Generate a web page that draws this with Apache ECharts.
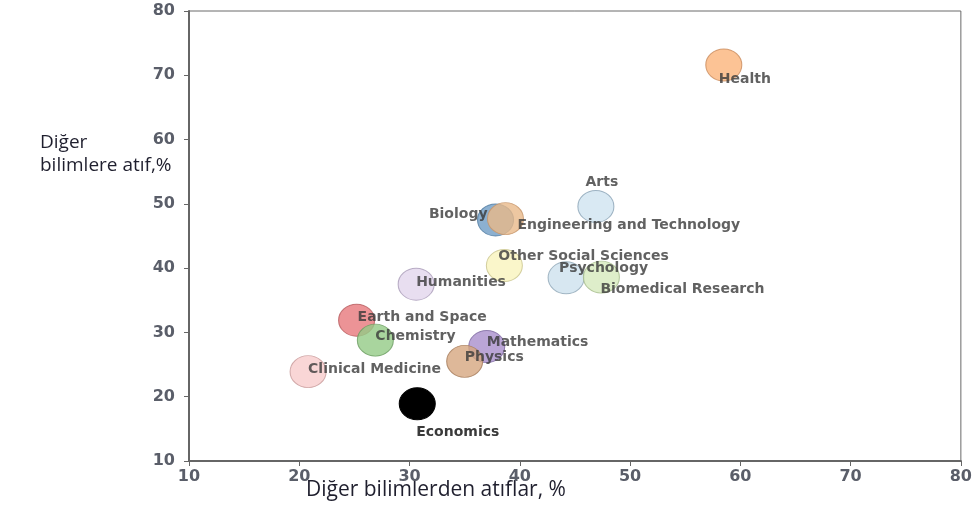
<!DOCTYPE html>
<html>
<head>
<meta charset="utf-8">
<script src="https://cdn.jsdelivr.net/npm/echarts@6/dist/echarts.min.js"></script>
<style>
html, body { margin: 0; padding: 0; background: #fff; }
#chart { width: 975px; height: 512px; }
</style>
</head>
<body>
<div id="chart"></div>
<script>
// alanlar ve değerler
var fields = ['Health', 'Arts', 'Biology', 'Engineering and Technology', 'Other Social Sciences',
	'Humanities', 'Psychology', 'Biomedical Research', 'Earth and Space', 'Chemistry',
	'Mathematics', 'Physics', 'Clinical Medicine', 'Economics'];
var citesFrom = [58.5, 46.9, 37.8, 38.7, 38.6, 30.6, 44.2, 47.4, 25.2, 26.9, 37.0, 35.0, 20.8, 30.7];
var citesTo = [71.6, 49.6, 47.5, 47.7, 40.4, 37.5, 38.5, 38.6, 31.9, 28.8, 27.8, 25.5, 23.9, 18.9];
var xTicks = [10, 20, 30, 40, 50, 60, 70, 80];
var yTicks = [10, 20, 30, 40, 50, 60, 70, 80];

// renkler (dolgu, kenar)
var fills = ['#fbb47a', '#cfe3f0', '#6f9cc4', '#e9b98a', '#f9f4bd', '#e2d6ec', '#cde1ee', '#d6eabd',
	'#e7787c', '#93cb86', '#a98fcc', '#d6a67f', '#f8cccc', '#000000'];
var borders = ['#c9895a', '#8aa3b5', '#4f7aa0', '#c6956a', '#c9c48f', '#a99bb8', '#8ea6b7', '#a6bb8c',
	'#b75a5d', '#6c9c61', '#7d68a0', '#a67d5c', '#c79a9a', '#000000'];

// etiket konumları [dx, dy, hizalama]
var labelPos = {
	'Health': [-5, 14, 'left'],
	'Arts': [6, -24, 'center'],
	'Biology': [-8, -6, 'right'],
	'Engineering and Technology': [12, 7, 'left'],
	'Other Social Sciences': [-6, -9, 'left'],
	'Humanities': [0, -2, 'left'],
	'Psychology': [-7, -9, 'left'],
	'Biomedical Research': [-1, 12, 'left'],
	'Earth and Space': [1, -3, 'left'],
	'Chemistry': [0, -4, 'left'],
	'Mathematics': [0, -4, 'left'],
	'Physics': [0, -4, 'left'],
	'Clinical Medicine': [0, -2, 'left'],
	'Economics': [-1, 29, 'left']
};

var dom = document.getElementById('chart');
var myChart = echarts.init(dom);

var points = fields.map(function (name, i) {
	var lp = labelPos[name];
	return {
		name: name,
		value: [citesFrom[i], citesTo[i]],
		itemStyle: {
			color: fills[i],
			borderColor: borders[i],
			borderWidth: 1,
			opacity: name === 'Economics' ? 1 : 0.8
		},
		label: {
			offset: [lp[0], lp[1]],
			align: lp[2]
		}
	};
});

var axisLabelStyle = {
	color: '#5a5e69',
	fontSize: 16,
	fontWeight: 'bold',
	fontFamily: 'DejaVu Sans'
};

var option = {
	animation: false,
	grid: {
		left: 189,
		right: 12,
		top: 11,
		bottom: 51,
		show: true,
		borderColor: '#6a6a6a',
		borderWidth: 1
	},
	xAxis: {
		type: 'value',
		min: 10,
		max: 80,
		interval: 10,
		splitLine: { show: false },
		axisLine: { lineStyle: { color: '#666', width: 2 } },
		axisTick: { show: true, length: 5, lineStyle: { color: '#666' } },
		axisLabel: Object.assign({ margin: 8, customValues: xTicks }, axisLabelStyle)
	},
	yAxis: {
		type: 'value',
		min: 10,
		max: 80,
		interval: 10,
		splitLine: { show: false },
		axisLine: { show: true, lineStyle: { color: '#666', width: 2 } },
		axisTick: { show: true, length: 5, lineStyle: { color: '#666' } },
		axisLabel: Object.assign({ margin: 14, customValues: yTicks }, axisLabelStyle)
	},
	graphic: [
		{
			type: 'text',
			left: 40,
			top: 131,
			style: {
				text: 'Diğer\nbilimlere atıf,%',
				fill: '#1f1f2e',
				font: '19px "Open Sans"',
				lineHeight: 23
			}
		},
		{
			type: 'text',
			left: 306,
			top: 480,
			style: {
				text: 'Diğer bilimlerden atıflar, %',
				fill: '#1f1f2e',
				font: '21px "Open Sans"'
			}
		}
	],
	series: [
		{
			type: 'scatter',
			symbol: 'circle',
			symbolSize: [36, 32],
			label: {
				show: true,
				position: 'inside',
				formatter: '{b}',
				verticalAlign: 'middle',
				color: '#3a3a3a',
				fontSize: 14,
				fontWeight: 'bold',
				fontFamily: 'DejaVu Sans'
			},
			data: points
		}
	]
};

if (option && typeof option === "object") {
	myChart.setOption(option, true);
}
</script>
</body>
</html>
